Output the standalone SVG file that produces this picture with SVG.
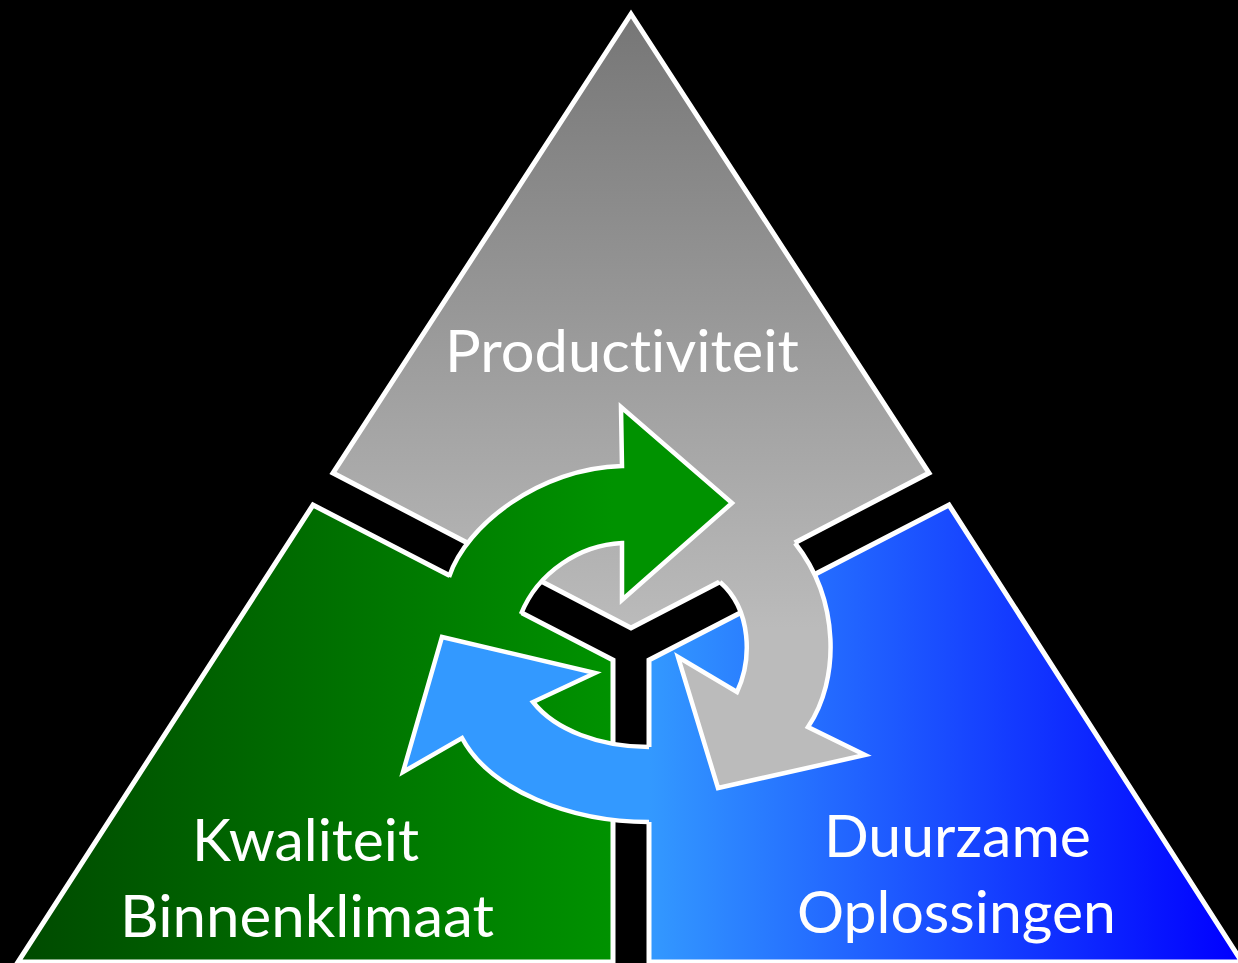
<svg xmlns="http://www.w3.org/2000/svg" width="1238" height="963" viewBox="0 0 1238 963">
  <defs>
    <linearGradient id="gradGray" gradientUnits="userSpaceOnUse" x1="0" y1="14" x2="0" y2="628">
      <stop offset="0" stop-color="#767676"/>
      <stop offset="1" stop-color="#bbbbbb"/>
    </linearGradient>
    <linearGradient id="gradGreen" gradientUnits="userSpaceOnUse" x1="18" y1="0" x2="613" y2="0">
      <stop offset="0" stop-color="#004a00"/>
      <stop offset="1" stop-color="#009200"/>
    </linearGradient>
    <linearGradient id="gradBlue" gradientUnits="userSpaceOnUse" x1="649" y1="0" x2="1236" y2="0">
      <stop offset="0" stop-color="#3399ff"/>
      <stop offset="1" stop-color="#0000ff"/>
    </linearGradient>
    <style>
      .region { stroke: #ffffff; stroke-width: 5; stroke-linejoin: miter; }
      .arrow-fill { stroke: none; }
      .arrow-edge { fill: none; stroke: #ffffff; stroke-width: 4.5; stroke-linejoin: miter; stroke-miterlimit: 10; }
      .label { fill: #ffffff; font-family: "Lato", "Open Sans", "Liberation Sans", sans-serif; font-size: 58px; font-variant-ligatures: none; font-feature-settings: "liga" 0, "clig" 0; }
    </style>
  </defs>

  <rect x="0" y="0" width="1238" height="963" fill="#000000"/>

  <!-- three segments of the triangle, separated by a Y-shaped gap -->
  <g id="node-productiviteit">
    <path class="region" fill="url(#gradGray)" d="M631,14 L929,473 L631,628 L333,473 Z"/>
  </g>
  <g id="node-kwaliteit">
    <path class="region" fill="url(#gradGreen)" d="M313,505 L613,660 L613,962 L18,962 Z"/>
  </g>
  <g id="node-duurzaam">
    <path class="region" fill="url(#gradBlue)" d="M949,505 L649,660 L649,962 L1242,962 Z"/>
  </g>

  <!-- circular arrows linking the segments -->
  <g id="connectors">
    <g id="arrow-green">
      <path class="arrow-fill" fill="url(#gradGreen)" d="M446,583 L449,577 C466,525 540,468 622,466 L621,407 L732,503 L622,600 L622,543 C580,545 538,572 521,614 L518,620 Z"/>
      <path class="arrow-edge" d="M449,577 C466,525 540,468 622,466 L621,407 L732,503 L622,600 L622,543 C580,545 538,572 521,614"/>
    </g>
    <g id="arrow-gray">
      <path class="arrow-fill" fill="url(#gradGray)" d="M791,537 L795,543 C840,600 840,680 808,727 L865,755 L718,788 L678,657 L737,692 C752,660 752,610 720,582 L715,577 Z"/>
      <path class="arrow-edge" d="M795,543 C840,600 840,680 808,727 L865,755 L718,788 L678,657 L737,692 C752,660 752,610 720,582"/>
    </g>
    <g id="arrow-blue">
      <path class="arrow-fill" fill="url(#gradBlue)" d="M655,822 L649,822 C570,822 490,790 462,738 L403,772 L442,637 L595,673 L533,702 C555,730 600,747 649,747 L655,747 Z"/>
      <path class="arrow-edge" d="M649,822 C570,822 490,790 462,738 L403,772 L442,637 L595,673 L533,702 C555,730 600,747 649,747"/>
    </g>
  </g>

  <!-- labels -->
  <text class="label" x="445" y="372" textLength="354" lengthAdjust="spacingAndGlyphs">Productiviteit</text>
  <text class="label" x="192" y="861" textLength="227" lengthAdjust="spacingAndGlyphs">Kwaliteit</text>
  <text class="label" x="120" y="937" textLength="374" lengthAdjust="spacingAndGlyphs">Binnenklimaat</text>
  <text class="label" x="824" y="857" textLength="267" lengthAdjust="spacingAndGlyphs">Duurzame</text>
  <text class="label" x="797" y="933" textLength="319" lengthAdjust="spacingAndGlyphs">Oplossingen</text>
</svg>
